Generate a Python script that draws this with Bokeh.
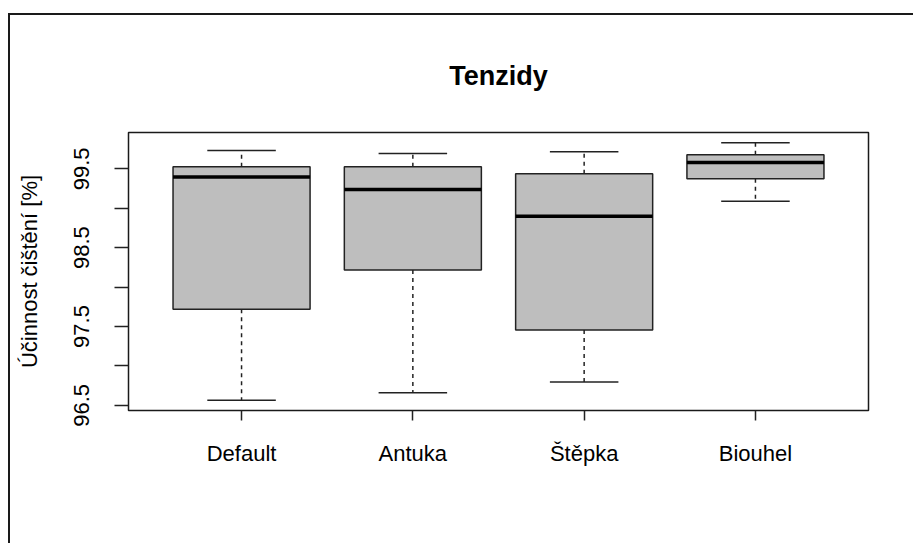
from bokeh.plotting import figure
from bokeh.models import FactorRange, FixedTicker, ColumnDataSource
from bokeh.transform import dodge
from bokeh.embed import file_html
from bokeh.resources import INLINE

# ---- data ----
categories = ["Default", "Antuka", "Štěpka", "Biouhel"]
lower_whisker = [96.565, 96.661, 96.797, 99.09]
q1 = [97.718, 98.216, 97.456, 99.373]
median = [99.395, 99.239, 98.897, 99.58]
q3 = [99.525, 99.525, 99.437, 99.677]
upper_whisker = [99.733, 99.695, 99.716, 99.83]
y_ticks = [96.5, 97.0, 97.5, 98.0, 98.5, 99.0, 99.5]
y_tick_labels = ["96.5", "", "97.5", "", "98.5", "", "99.5"]

title_text = "Tenzidy"
y_label = "Účinnost čištění [%]"

FONT = "Liberation Sans"

src = ColumnDataSource(dict(cat=categories, lo=lower_whisker, q1=q1, med=median,
                            q3=q3, hi=upper_whisker))

y_min = min(lower_whisker)
y_max = max(upper_whisker)
pad = (y_max - y_min) * 0.04

p = figure(x_range=FactorRange(*categories, range_padding=0.08),
           y_range=(y_min - pad, y_max + pad),
           width=905, height=530, output_backend="svg", toolbar_location=None,
           min_border_left=118, min_border_right=47, min_border_top=117,
           min_border_bottom=135, title=title_text)
p.styles = {"border-left": "2px solid #1a1a1a", "border-top": "2px solid #1a1a1a",
            "margin-top": "13px", "margin-left": "8px"}

p.background_fill_color = "white"
p.border_fill_color = "white"
p.outline_line_color = "#1a1a1a"
p.outline_line_width = 1.5
p.xgrid.visible = False
p.ygrid.visible = False

p.title.align = "center"
p.title.text_font = FONT
p.title.text_font_size = "27px"
p.title.text_font_style = "bold"
p.title.text_color = "black"
p.title.standoff = 83

LC = "#222222"
LW = 1.5
# whiskers (dashed)
p.segment(x0="cat", y0="q3", x1="cat", y1="hi", source=src, line_color=LC,
          line_width=LW, line_dash="4 4")
p.segment(x0="cat", y0="q1", x1="cat", y1="lo", source=src, line_color=LC,
          line_width=LW, line_dash="4 4")
# staples
p.segment(x0=dodge("cat", -0.2, range=p.x_range), y0="hi",
          x1=dodge("cat", 0.2, range=p.x_range), y1="hi", source=src,
          line_color=LC, line_width=LW)
p.segment(x0=dodge("cat", -0.2, range=p.x_range), y0="lo",
          x1=dodge("cat", 0.2, range=p.x_range), y1="lo", source=src,
          line_color=LC, line_width=LW)
# boxes
p.vbar(x="cat", width=0.8, bottom="q1", top="q3", source=src,
       fill_color="#bebebe", line_color=LC, line_width=LW)
# medians
p.segment(x0=dodge("cat", -0.4, range=p.x_range), y0="med",
          x1=dodge("cat", 0.4, range=p.x_range), y1="med", source=src,
          line_color="black", line_width=3.5, line_cap="butt")

# axes
for ax in (p.xaxis[0], p.yaxis[0]):
    ax.axis_line_color = None
    ax.major_tick_line_color = LC
    ax.major_tick_line_width = LW
    ax.minor_tick_line_color = None
    ax.major_tick_in = 0
    ax.major_label_text_font = FONT
    ax.major_label_text_font_size = "22px"
    ax.major_label_text_color = "black"
    ax.axis_label_text_font = FONT
    ax.axis_label_text_font_size = "22px"
    ax.axis_label_text_font_style = "normal"
    ax.axis_label_text_color = "black"

p.xaxis.major_tick_out = 10
p.xaxis.major_label_standoff = 20
p.xaxis.group_text_font_size = "22px"

p.yaxis.ticker = FixedTicker(ticks=y_ticks)
p.yaxis.major_label_overrides = {t: l for t, l in zip(y_ticks, y_tick_labels)}
p.yaxis.major_tick_out = 14
p.yaxis.major_label_orientation = "vertical"
p.yaxis.major_label_standoff = 25
p.yaxis.axis_label = y_label
p.yaxis.axis_label_standoff = 30

open("out.html", "w").write(file_html(p, INLINE))
